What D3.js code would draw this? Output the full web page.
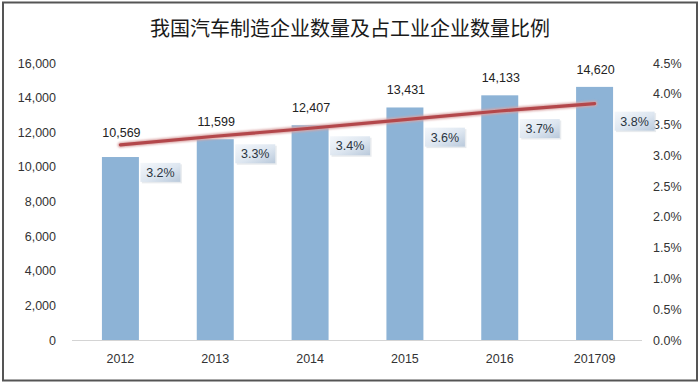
<!DOCTYPE html>
<html>
<head>
<meta charset="utf-8">
<script src="https://cdn.jsdelivr.net/npm/d3@7"></script>
<style>
  html, body { margin: 0; padding: 0; background: #fff; }
  svg { display: block; }
</style>
</head>
<body>
<svg id="chart" width="700" height="384"></svg>
<script>
// ---- data ----
const categories = ["2012", "2013", "2014", "2015", "2016", "201709"];
const enterpriseCounts = [10569, 11599, 12407, 13431, 14133, 14620];
const sharePercent = [3.17, 3.31, 3.44, 3.58, 3.72, 3.84];
const leftTicks = [0, 2000, 4000, 6000, 8000, 10000, 12000, 14000, 16000];
const rightTicks = [0, 0.5, 1.0, 1.5, 2.0, 2.5, 3.0, 3.5, 4.0, 4.5];
const titleText = "我国汽车制造企业数量及占工业企业数量比例";

// ---- layout ----
const W = 700, H = 384;
const plot = { left: 73, right: 642, top: 63, bottom: 340 };
const font = "'Liberation Sans', Arial, sans-serif";

const svg = d3.select("#chart");

// gradient for percent label boxes
const defs = svg.append("defs");
const grad = defs.append("linearGradient").attr("id", "lblGrad")
  .attr("x1", "0").attr("y1", "0").attr("x2", "1").attr("y2", "1");
grad.append("stop").attr("offset", "0%").attr("stop-color", "#f4f7fb");
grad.append("stop").attr("offset", "55%").attr("stop-color", "#dde6f0");
grad.append("stop").attr("offset", "100%").attr("stop-color", "#b9c9db");
const flt = defs.append("filter").attr("id", "glow").attr("x", "-10%").attr("y", "-50%").attr("width", "120%").attr("height", "200%");
flt.append("feGaussianBlur").attr("stdDeviation", 0.8);

// background + border
svg.append("rect").attr("x", 0).attr("y", 0).attr("width", W).attr("height", H).attr("fill", "#fff");
svg.append("rect").attr("x", 3).attr("y", 2.5).attr("width", W - 6).attr("height", H - 6)
  .attr("fill", "none").attr("stroke", "#555").attr("stroke-width", 2);

// scales
const x = d3.scaleBand().domain(categories).range([plot.left, plot.right]).paddingInner(0.61).paddingOuter(0.305);
const y = d3.scaleLinear().domain([0, 16000]).range([plot.bottom, plot.top]);
const y2 = d3.scaleLinear().domain([0, 4.5]).range([plot.bottom, plot.top]);

// title
svg.append("text")
  .attr("x", 350).attr("y", 36)
  .attr("text-anchor", "middle")
  .attr("font-family", "'Noto Sans CJK SC', sans-serif")
  .attr("font-size", 20)
  .attr("fill", "#1a1a1a")
  .text(titleText);

// left axis
const leftAxis = svg.append("g").attr("transform", `translate(56,0)`)
  .call(d3.axisLeft(y).tickValues(leftTicks).tickSize(0).tickPadding(0).tickFormat(d3.format(",")));
leftAxis.select(".domain").remove();
leftAxis.selectAll("text").attr("font-family", font).attr("font-size", 12.5).attr("fill", "#333");

// right axis
const rightAxis = svg.append("g").attr("transform", `translate(653,0)`)
  .call(d3.axisRight(y2).tickValues(rightTicks).tickSize(0).tickPadding(0).tickFormat(d => d.toFixed(1) + "%"));
rightAxis.select(".domain").remove();
rightAxis.selectAll("text").attr("font-family", font).attr("font-size", 12.5).attr("fill", "#333");

// bottom axis
const bottomAxis = svg.append("g").attr("transform", `translate(0,${plot.bottom})`)
  .call(d3.axisBottom(x).tickSize(0).tickPadding(14));
bottomAxis.select(".domain").remove();
bottomAxis.selectAll("text").attr("font-family", font).attr("font-size", 12.5).attr("fill", "#333");

// baseline
svg.append("line")
  .attr("x1", plot.left - 1).attr("x2", plot.right)
  .attr("y1", plot.bottom + 0.5).attr("y2", plot.bottom + 0.5)
  .attr("stroke", "#d4d4d4").attr("stroke-width", 1);

// bars
svg.append("g").selectAll("rect").data(categories).join("rect")
  .attr("x", d => x(d))
  .attr("y", (d, i) => y(enterpriseCounts[i]))
  .attr("width", x.bandwidth())
  .attr("height", (d, i) => y(0) - y(enterpriseCounts[i]))
  .attr("fill", "#8db3d6");

// line
const lineGen = d3.line()
  .x((d, i) => x(categories[i]) + x.bandwidth() / 2)
  .y(d => y2(d));
svg.append("path").datum(sharePercent)
  .attr("d", lineGen)
  .attr("fill", "none")
  .attr("stroke", "#d9a3a3")
  .attr("stroke-width", 5.5)
  .attr("stroke-linecap", "round")
  .attr("filter", "url(#glow)");
svg.append("path").datum(sharePercent)
  .attr("d", lineGen)
  .attr("fill", "none")
  .attr("stroke", "#b3474b")
  .attr("stroke-width", 3.2)
  .attr("stroke-linecap", "round");

// value labels above bars
svg.append("g").selectAll("text").data(categories).join("text")
  .attr("x", d => x(d) + x.bandwidth() / 2 + 1)
  .attr("y", (d, i) => y(enterpriseCounts[i]) - (i === 0 ? 20 : 13))
  .attr("text-anchor", "middle")
  .attr("font-family", font).attr("font-size", 12.5).attr("fill", "#222")
  .text((d, i) => d3.format(",")(enterpriseCounts[i]));

// percent label boxes
const boxW = 40, boxH = 19;
const pg = svg.append("g").selectAll("g").data(categories).join("g")
  .attr("transform", (d, i) => {
    const bx = x(d) + x.bandwidth() + 1.5;
    const by = y2(sharePercent[i]) + (i === 0 ? 18 : 8);
    return `translate(${bx},${by})`;
  });
pg.append("rect")
  .attr("x", 1.5).attr("y", 1.5).attr("width", boxW).attr("height", boxH)
  .attr("fill", "#d8dde3").attr("opacity", 0.6);
pg.append("rect")
  .attr("width", boxW).attr("height", boxH)
  .attr("fill", "url(#lblGrad)");
pg.append("text")
  .attr("x", boxW / 2).attr("y", 14)
  .attr("text-anchor", "middle")
  .attr("font-family", font).attr("font-size", 12.5).attr("fill", "#2a3440")
  .text((d, i) => sharePercent[i].toFixed(1) + "%");
</script>
</body>
</html>
